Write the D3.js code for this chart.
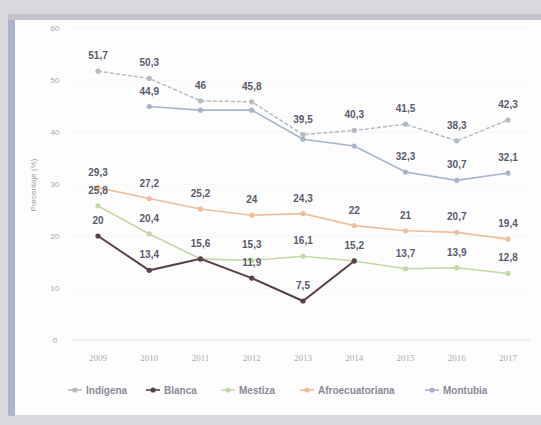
<!DOCTYPE html>
<html>
<head>
<meta charset="utf-8">
<script src="https://cdn.jsdelivr.net/npm/d3@7"></script>
<style>
  body { margin: 0; background: #fff; }
  svg { display: block; }
</style>
</head>
<body>
<script>
var w = 541;
var h = 425;

// years on the x axis
var years = ["2009", "2010", "2011", "2012", "2013", "2014", "2015", "2016", "2017"];
var yTicks = [0, 10, 20, 30, 40, 50, 60];

// series values (null = no data)
var indigena        = [51.7, 50.3, 46, 45.8, 39.5, 40.3, 41.5, 38.3, 42.3];
var montubia        = [null, 44.9, 44.2, 44.2, 38.6, 37.3, 32.3, 30.7, 32.1];
var afroecuatoriana = [29.3, 27.2, 25.2, 24, 24.3, 22, 21, 20.7, 19.4];
var mestiza         = [25.8, 20.4, 15.6, 15.3, 16.1, 15.2, 13.7, 13.9, 12.8];
var blanca          = [20, 13.4, 15.6, 11.9, 7.5, 15.2, null, null, null];

// which points carry a value label
var indigenaLab = [1, 1, 1, 1, 1, 1, 1, 1, 1];
var montubiaLab = [0, 1, 0, 0, 0, 0, 1, 1, 1];
var afroLab     = [1, 1, 1, 1, 1, 1, 1, 1, 1];
var mestizaLab  = [1, 1, 0, 1, 1, 0, 1, 1, 1];
var blancaLab   = [1, 1, 1, 1, 1, 1, 0, 0, 0];

var legendNames = ["Indígena", "Blanca", "Mestiza", "Afroecuatoriana", "Montubia"];

var series = [
  {name: "Afroecuatoriana", values: afroecuatoriana, lab: afroLab, color: "#efbf9c", dash: null, width: 1.6},
  {name: "Mestiza", values: mestiza, lab: mestizaLab, color: "#c2d8a6", dash: null, width: 1.6},
  {name: "Montubia", values: montubia, lab: montubiaLab, color: "#a9b3cc", dash: null, width: 1.6},
  {name: "Indígena", values: indigena, lab: indigenaLab, color: "#b4bcc4", dash: "4,2", width: 1.5},
  {name: "Blanca", values: blanca, lab: blancaLab, color: "#5b4049", dash: null, width: 2}
];

var svg = d3.select("body")
  .append("svg")
  .attr("width", w)
  .attr("height", h);

// scanned page frame
svg.append("rect").attr("width", w).attr("height", h).attr("fill", "#d9d9dd");
svg.append("rect").attr("x", 14).attr("y", 20).attr("width", w - 14).attr("height", 395).attr("fill", "#fdfdfd");
svg.append("rect").attr("x", 8).attr("y", 14).attr("width", 7).attr("height", 402).attr("fill", "#aeb2cf");
svg.append("rect").attr("x", 8).attr("y", 14).attr("width", w - 8).attr("height", 6).attr("fill", "#c4c4ca");

var x = d3.scalePoint()
  .domain(years)
  .range([98, 508]);

var y = d3.scaleLinear()
  .domain([0, 60])
  .range([340, 28]);

// gridlines
svg.append("g")
  .selectAll("line")
  .data(yTicks)
  .enter()
  .append("line")
  .attr("x1", 72)
  .attr("x2", 530)
  .attr("y1", function(d){ return y(d); })
  .attr("y2", function(d){ return y(d); })
  .attr("stroke", function(d){ return d == 0 ? "#e2e2e2" : "#f4f4f4"; });

// y tick labels
svg.append("g")
  .selectAll("text")
  .data(yTicks)
  .enter()
  .append("text")
  .attr("x", 55)
  .attr("y", function(d){ return y(d) + 3; })
  .attr("text-anchor", "middle")
  .attr("font-family", "Liberation Sans Narrow, Liberation Sans, sans-serif")
  .attr("font-size", 8)
  .attr("fill", "#a8a8a8")
  .text(function(d){ return d; });

svg.append("text")
  .attr("transform", "translate(36," + 185 + ") rotate(-90)")
  .attr("text-anchor", "middle")
  .attr("font-family", "Liberation Sans Narrow, Liberation Sans, sans-serif")
  .attr("font-size", 8)
  .attr("fill", "#a0a0a8")
  .text("Porcentaje (%)");

// x tick labels
svg.append("g")
  .selectAll("text")
  .data(years)
  .enter()
  .append("text")
  .attr("x", function(d){ return x(d); })
  .attr("y", 361)
  .attr("text-anchor", "middle")
  .attr("font-family", "Liberation Serif, serif")
  .attr("font-size", 9)
  .attr("fill", "#aaaaaa")
  .text(function(d){ return d; });

var line = d3.line()
  .defined(function(d){ return d.v != null; })
  .x(function(d){ return x(d.year); })
  .y(function(d){ return y(d.v); });

var fmt = function(v){ return String(v).replace(".", ","); };

series.forEach(function(s) {
  var pts = years.map(function(yr, i){ return {year: yr, v: s.values[i], lab: s.lab[i]}; });
  var g = svg.append("g");

  g.append("path")
    .datum(pts)
    .attr("d", line)
    .attr("fill", "none")
    .attr("stroke", s.color)
    .attr("stroke-width", s.width)
    .attr("stroke-dasharray", s.dash);

  g.selectAll("circle")
    .data(pts.filter(function(d){ return d.v != null; }))
    .enter()
    .append("circle")
    .attr("cx", function(d){ return x(d.year); })
    .attr("cy", function(d){ return y(d.v); })
    .attr("r", 2.6)
    .attr("fill", s.color);

  g.selectAll("text")
    .data(pts.filter(function(d){ return d.v != null && d.lab; }))
    .enter()
    .append("text")
    .attr("x", function(d){ return x(d.year); })
    .attr("y", function(d){ return y(d.v) - 12; })
    .attr("text-anchor", "middle")
    .attr("font-family", "Liberation Sans Narrow, Liberation Sans, sans-serif")
    .attr("font-weight", "bold")
    .attr("font-size", 10)
    .attr("fill", "#5a5a6c")
    .text(function(d){ return fmt(d.v); });
});

// legend
var legendX = [68, 146, 221, 300, 425];
var legend = svg.append("g")
  .selectAll("g")
  .data(legendNames)
  .enter()
  .append("g")
  .attr("transform", function(d, i){ return "translate(" + legendX[i] + ",390)"; });

legend.append("line")
  .attr("x1", 0).attr("x2", 14)
  .attr("stroke", function(d){ return series.find(function(s){ return s.name == d; }).color; })
  .attr("stroke-width", 1.6);

legend.append("circle")
  .attr("cx", 7)
  .attr("r", 2.6)
  .attr("fill", function(d){ return series.find(function(s){ return s.name == d; }).color; });

legend.append("text")
  .attr("x", 18)
  .attr("y", 3.5)
  .attr("font-family", "Liberation Sans Narrow, Liberation Sans, sans-serif")
  .attr("font-weight", "bold")
  .attr("font-size", 10)
  .attr("fill", "#8a8a98")
  .text(function(d){ return d; });
</script>
</body>
</html>
